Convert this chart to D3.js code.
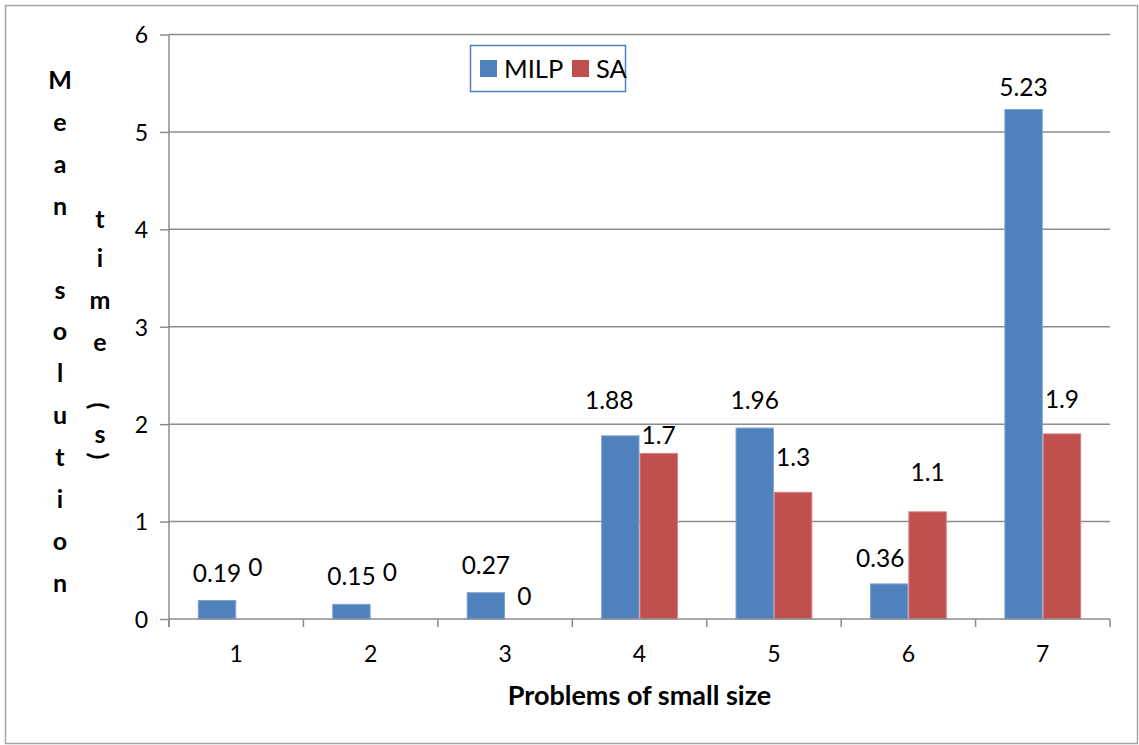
<!DOCTYPE html>
<html>
<head>
<meta charset="utf-8">
<script src="https://cdn.jsdelivr.net/npm/d3@7"></script>
<style>
  html, body { margin: 0; padding: 0; background: #fff; }
  svg { display: block; font-family: Lato, "Open Sans", sans-serif; }
</style>
</head>
<body>
<svg id="chart" width="1139" height="745"></svg>
<script>
  'use strict';

  var problems = ['1', '2', '3', '4', '5', '6', '7'];
  var seriesNames = ['MILP', 'SA'];
  var milpTimes = [0.19, 0.15, 0.27, 1.88, 1.96, 0.36, 5.23];
  var saTimes = [0, 0, 0, 1.7, 1.3, 1.1, 1.9];
  var yTicks = [0, 1, 2, 3, 4, 5, 6];
  var xTitle = 'Problems of small size';
  var yTitleA = 'Mean solution';
  var yTitleB = 'time(s)';

  var colors = { MILP: '#4f81bd', SA: '#c0504d' };
  var edges = { MILP: '#7fa3d2', SA: '#d38280' };

  // labels were dragged by hand in the original, so each one has its own lift / shift
  var labelLift = {
    MILP: [18, 19, 19, 27, 19, 17, 14],
    SA: [43, 38, 14, 9, 26, 31, 26]
  };
  var labelShift = {
    MILP: [0, 0, 0, -11, 0, -9, 0],
    SA: [0, 0, 0, 0, 0, 0, 0]
  };

  var rows = problems.map(function(p, i) {
    return { problem: p, MILP: milpTimes[i], SA: saTimes[i] };
  });

  var svg = d3.select('#chart');
  var plotLeft = 169, plotRight = 1110, plotTop = 34.5, plotBottom = 619;

  // outer frame
  svg.append('rect')
    .attr('x', 5.5).attr('y', 5.5)
    .attr('width', 1132).attr('height', 738)
    .attr('fill', 'none')
    .attr('stroke', '#a6a6a6')
    .attr('stroke-width', 1.5);

  var gap = 1.5 / 3.5;
  var x0 = d3.scaleBand().domain(problems).range([plotLeft, plotRight])
    .paddingInner(gap).paddingOuter(gap / 2);
  var x1 = d3.scaleBand().domain(seriesNames).range([0, x0.bandwidth()]);
  var y = d3.scaleLinear().domain([0, 6]).range([plotBottom, plotTop]);

  // gridlines
  svg.append('g')
    .selectAll('line')
    .data(yTicks.filter(function(t) { return t > 0; }))
    .enter().append('line')
    .attr('x1', plotLeft).attr('x2', plotRight)
    .attr('y1', function(d) { return y(d); })
    .attr('y2', function(d) { return y(d); })
    .attr('stroke', '#8c8c8c')
    .attr('stroke-width', 1.5);

  // bars
  var groups = svg.append('g')
    .selectAll('g')
    .data(rows)
    .enter().append('g')
    .attr('transform', function(d) { return 'translate(' + x0(d.problem) + ',0)'; });

  groups.selectAll('rect')
    .data(function(d) {
      return seriesNames.map(function(s) { return { key: s, value: d[s] }; });
    })
    .enter().append('rect')
    .filter(function(d) { return d.value > 0; })
    .attr('x', function(d) { return x1(d.key) + 0.5; })
    .attr('y', function(d) { return y(d.value); })
    .attr('width', x1.bandwidth() - 1)
    .attr('height', function(d) { return y(0) - y(d.value); })
    .attr('fill', function(d) { return colors[d.key]; })
    .attr('stroke', function(d) { return edges[d.key]; })
    .attr('stroke-width', 1);

  // data labels
  var labels = [];
  rows.forEach(function(d, i) {
    seriesNames.forEach(function(s) {
      labels.push({ problem: d.problem, key: s, value: d[s], i: i });
    });
  });
  svg.append('g')
    .selectAll('text')
    .data(labels)
    .enter().append('text')
    .attr('x', function(d) {
      return x0(d.problem) + x1(d.key) + x1.bandwidth() / 2 + labelShift[d.key][d.i];
    })
    .attr('y', function(d) { return y(d.value) - labelLift[d.key][d.i]; })
    .attr('text-anchor', 'middle')
    .attr('font-size', 24.5)
    .attr('fill', '#000')
    .text(function(d) { return String(d.value); });

  // y axis
  var yAxis = svg.append('g')
    .attr('transform', 'translate(' + plotLeft + ',0)')
    .call(d3.axisLeft(y).tickValues(yTicks).tickSize(9).tickPadding(12).tickFormat(d3.format('d')));
  yAxis.select('.domain').attr('stroke', '#8c8c8c').attr('stroke-width', 1.5)
    .attr('d', 'M0,' + plotTop + 'V' + (plotBottom + 8));
  yAxis.selectAll('.tick line').attr('stroke', '#8c8c8c').attr('stroke-width', 1.5);
  yAxis.selectAll('.tick text')
    .attr('font-size', 23).attr('font-family', 'Lato, sans-serif').attr('fill', '#000')
    .attr('dy', '0.36em');

  // x axis: line, boundary ticks, category labels
  svg.append('line')
    .attr('x1', plotLeft).attr('x2', plotRight)
    .attr('y1', plotBottom).attr('y2', plotBottom)
    .attr('stroke', '#8c8c8c').attr('stroke-width', 1.5);
  var bounds = problems.map(function(p) { return x0(p) - x0.step() * gap / 2; });
  bounds.push(plotRight);
  svg.append('g')
    .selectAll('line')
    .data(bounds)
    .enter().append('line')
    .attr('x1', function(d) { return d; }).attr('x2', function(d) { return d; })
    .attr('y1', plotBottom).attr('y2', plotBottom + 8)
    .attr('stroke', '#8c8c8c').attr('stroke-width', 1.5);
  svg.append('g')
    .selectAll('text')
    .data(problems)
    .enter().append('text')
    .attr('x', function(d) { return x0(d) + x0.bandwidth() / 2; })
    .attr('y', 662)
    .attr('text-anchor', 'middle')
    .attr('font-size', 23)
    .text(function(d) { return d; });

  svg.append('text')
    .attr('x', (plotLeft + plotRight) / 2)
    .attr('y', 705)
    .attr('text-anchor', 'middle')
    .attr('font-size', 27)
    .attr('font-weight', 'bold')
    .text(xTitle);

  // stacked y title, two columns as in the original
  var titleA = svg.append('g').attr('font-size', 25).attr('font-weight', 'bold').attr('text-anchor', 'middle');
  yTitleA.split('').forEach(function(ch, k) {
    titleA.append('text').attr('x', 60).attr('y', 89 + k * 41.9).text(ch);
  });
  var posB = [228, 267, 309, 351, 406, 443, 456];
  yTitleB.split('').forEach(function(ch, k) {
    var t = titleA.append('text').text(ch);
    if (ch === '(' || ch === ')') {
      t.attr('dominant-baseline', 'central')
        .attr('transform', 'translate(100,' + posB[k] + ') rotate(90)');
    } else {
      t.attr('x', 100).attr('y', posB[k]);
    }
  });

  // legend
  var legend = svg.append('g');
  legend.append('rect')
    .attr('x', 470.5).attr('y', 45.5)
    .attr('width', 155).attr('height', 46)
    .attr('fill', '#fff')
    .attr('stroke', '#4f81bd')
    .attr('stroke-width', 1.5);
  var legendX = { MILP: 480, SA: 572 };
  seriesNames.forEach(function(s) {
    legend.append('rect')
      .attr('x', legendX[s]).attr('y', 60)
      .attr('width', 17).attr('height', 17)
      .attr('fill', colors[s]);
    legend.append('text')
      .attr('x', legendX[s] + 24).attr('y', 78)
      .attr('font-size', 25.5)
      .text(s);
  });
</script>
</body>
</html>
